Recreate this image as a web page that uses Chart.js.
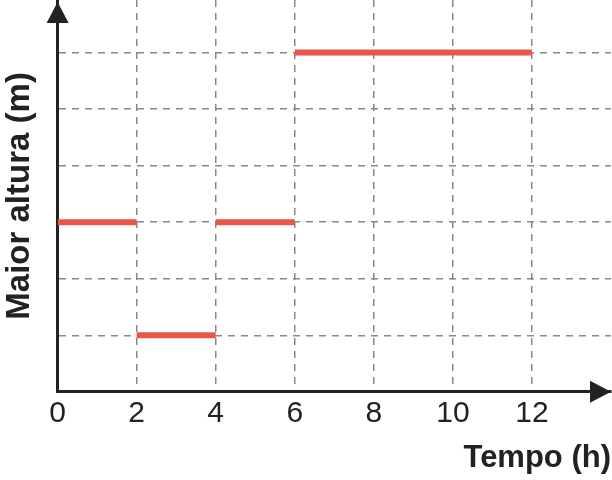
<!DOCTYPE html>
<html>
<head>
<meta charset="utf-8">
<script src="https://cdn.jsdelivr.net/npm/chart.js@4.4.1/dist/chart.umd.min.js"></script>
<style>
  html, body { margin: 0; padding: 0; background: #fff; }
  canvas { display: block; }
</style>
</head>
<body>
<canvas id="chart" width="612" height="480"></canvas>
<script>
// intervals of time (h) and the max height reached in each
const segStart = [0, 2, 4, 6];
const segEnd = [2, 4, 6, 12];
const segHeight = [3, 1, 3, 6];
const xTicks = [0, 2, 4, 6, 8, 10, 12];

const xTitle = 'Tempo (h)';
const yTitle = 'Maior altura (m)';

const ink = '#222';
const red = '#e9574a';

// one dataset, segments split by null gaps
const points = [];
for (let i = 0; i < segStart.length; i++) {
    points.push({ x: segStart[i], y: segHeight[i] });
    points.push({ x: segEnd[i], y: segHeight[i] });
    points.push({ x: segEnd[i], y: null });
}

const arrows = {
    id: 'arrows',
    afterDraw(chart) {
        const ctx = chart.ctx;
        const a = chart.chartArea;
        const x0 = chart.scales.x.getPixelForValue(0);
        const y0 = chart.scales.y.getPixelForValue(0);
        ctx.save();
        ctx.fillStyle = ink;
        // up arrow
        ctx.beginPath();
        ctx.moveTo(x0, a.top + 2);
        ctx.lineTo(x0 - 11, a.top + 23);
        ctx.lineTo(x0 + 11, a.top + 23);
        ctx.closePath();
        ctx.fill();
        // right arrow
        ctx.beginPath();
        ctx.moveTo(a.right, y0);
        ctx.lineTo(a.right - 21, y0 - 11);
        ctx.lineTo(a.right - 21, y0 + 11);
        ctx.closePath();
        ctx.fill();
        ctx.restore();
    }
};

new Chart(document.getElementById('chart'), {
    type: 'line',
    data: {
        datasets: [{
            data: points,
            borderColor: red,
            borderWidth: 6,
            borderCapStyle: 'butt',
            pointRadius: 0,
            spanGaps: false,
            fill: false,
        }]
    },
    options: {
        responsive: false,
        animation: false,
        events: [],
        layout: { padding: { left: 0, right: 1, top: 0, bottom: 0 } },
        plugins: {
            legend: { display: false },
            tooltip: { enabled: false },
        },
        scales: {
            x: {
                type: 'linear',
                min: 0,
                max: 14,
                afterBuildTicks: (scale) => {
                    scale.ticks = xTicks.map(v => ({ value: v }));
                },
                ticks: {
                    stepSize: 2,
                    color: ink,
                    padding: 4,
                    font: { family: 'Liberation Sans, Arial', size: 30 },
                },
                grid: {
                    drawTicks: false,
                    color: (c) => c.tick && c.tick.value === 0 ? 'rgba(0,0,0,0)' : '#888',
                    lineWidth: 1.5,
                },
                border: { color: ink, width: 3, dash: [7, 6] },
                title: {
                    display: true,
                    text: xTitle,
                    align: 'end',
                    color: ink,
                    padding: { top: 4, bottom: 3 },
                    font: { family: 'Liberation Sans, Arial', size: 31, weight: 'bold' },
                },
            },
            y: {
                min: 0,
                max: 6.93,
                ticks: {
                    stepSize: 1,
                    includeBounds: false,
                    display: false,
                },
                grid: {
                    drawTicks: false,
                    color: (c) => c.tick && c.tick.value === 0 ? 'rgba(0,0,0,0)' : '#888',
                    lineWidth: 1.5,
                },
                border: { color: ink, width: 3, dash: [7, 6] },
                title: {
                    display: true,
                    text: yTitle,
                    color: ink,
                    padding: { top: 0, bottom: 18 },
                    font: { family: 'Liberation Sans, Arial', size: 33, weight: 'bold' },
                },
            },
        },
    },
    plugins: [arrows],
});
</script>
</body>
</html>
